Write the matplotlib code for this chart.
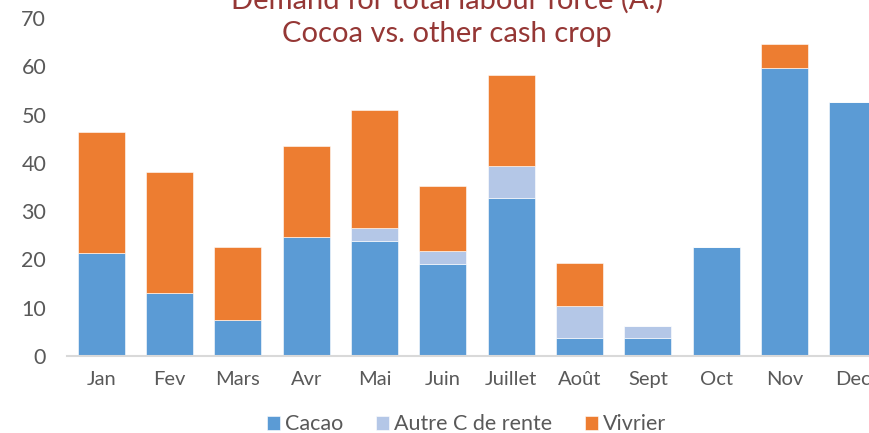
import matplotlib
matplotlib.use("Agg")
import matplotlib.pyplot as plt
import numpy as np

months = ["Jan", "Fev", "Mars", "Avr", "Mai", "Juin", "Juillet", "Août", "Sept", "Oct", "Nov", "Dec"]
cacao = [21.3, 13.1, 7.5, 24.6, 23.9, 19.1, 32.7, 3.7, 3.7, 22.5, 59.7, 52.7]
autre = [0, 0, 0, 0, 2.6, 2.6, 6.6, 6.7, 2.6, 0, 0, 0]
vivrier = [25.1, 25.0, 15.0, 18.9, 24.5, 13.5, 18.9, 8.9, 0, 0, 5.0, 0]
series_names = ["Cacao", "Autre C de rente", "Vivrier"]
colors = ["#5B9BD5", "#B4C7E7", "#ED7D31"]
yticks = [0, 10, 20, 30, 40, 50, 60, 70]

plt.rcParams['font.family'] = ['Lato', 'DejaVu Sans']
fig = plt.figure(figsize=(8.69, 4.33), dpi=100)
ax = fig.add_axes([0.0771, 0.1778, 1.0207 - 0.0771, 0.958 - 0.1778])

x = np.arange(len(months))
w = 0.69
b1 = np.array(cacao)
b2 = b1 + np.array(autre)
ax.bar(x, cacao, w, color=colors[0], edgecolor="white", linewidth=0.4, label=series_names[0])
ax.bar(x, autre, w, bottom=b1, color=colors[1], edgecolor="white", linewidth=0.4, label=series_names[1])
ax.bar(x, vivrier, w, bottom=b2, color=colors[2], edgecolor="white", linewidth=0.4, label=series_names[2])

ax.set_xlim(-0.5, len(months) - 0.5)
ax.set_ylim(0, 70)
ax.set_yticks(yticks)
ax.set_xticks(x)
ax.set_xticklabels(months)
for s in ["top", "right", "left"]:
    ax.spines[s].set_visible(False)
ax.spines["bottom"].set_color("#D9D9D9")
ax.spines["bottom"].set_linewidth(1.5)
ax.tick_params(axis="both", length=0, colors="#595959")
ax.tick_params(axis="x", pad=11, labelsize=14.5)
ax.tick_params(axis="y", pad=15, labelsize=15.5)

fig.text(0.514, 1.0, "Demand for total labour force (A.)", ha="center", va="center",
         color="#953735", fontsize=21)
fig.text(0.514, 0.922, "Cocoa vs. other cash crop", ha="center", va="center",
         color="#953735", fontsize=21)

leg = fig.legend(loc="center", bbox_to_anchor=(0.537, 0.02), ncol=3, frameon=False,
                 fontsize=15.5, handlelength=0.6, handleheight=0.6, handletextpad=0.25,
                 columnspacing=1.5, labelcolor="#595959")

fig.savefig("out.png", dpi=100)
